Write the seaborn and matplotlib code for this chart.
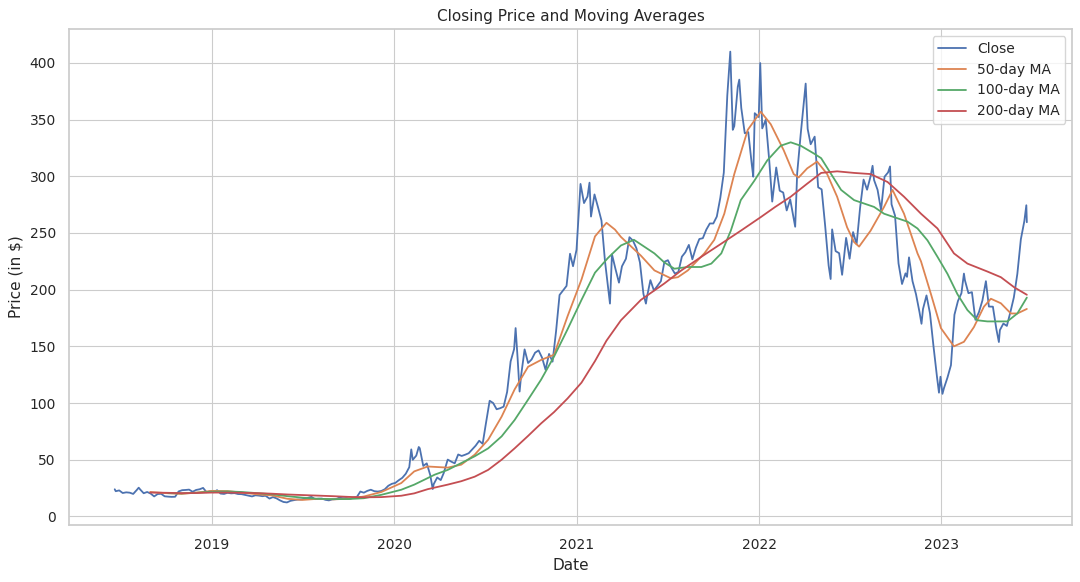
import seaborn as sns
import pandas as pd
import matplotlib.pyplot as plt
import matplotlib.dates as mdates

sns.set_theme(style="whitegrid")
plt.rcParams['font.family'] = ['DejaVu Sans']

# ============ closing price ============
close_dates = [
    "2018-06-20", "2018-06-22", "2018-06-29", "2018-07-06", "2018-07-13", "2018-07-20", "2018-07-27",
    "2018-08-03", "2018-08-07", "2018-08-10", "2018-08-17", "2018-08-24", "2018-08-31", "2018-09-07",
    "2018-09-14", "2018-09-21", "2018-09-28", "2018-10-05", "2018-10-12", "2018-10-19", "2018-10-26",
    "2018-11-02", "2018-11-09", "2018-11-16", "2018-11-23", "2018-11-30", "2018-12-07", "2018-12-14",
    "2018-12-21", "2018-12-28", "2019-01-04", "2019-01-11", "2019-01-18", "2019-01-25", "2019-02-01",
    "2019-02-08", "2019-02-15", "2019-02-22", "2019-03-01", "2019-03-08", "2019-03-15", "2019-03-22",
    "2019-03-29", "2019-04-05", "2019-04-12", "2019-04-18", "2019-04-26", "2019-05-03", "2019-05-10",
    "2019-05-17", "2019-05-24", "2019-05-31", "2019-06-07", "2019-06-14", "2019-06-21", "2019-06-28",
    "2019-07-05", "2019-07-12", "2019-07-19", "2019-07-26", "2019-08-02", "2019-08-09", "2019-08-16",
    "2019-08-23", "2019-08-30", "2019-09-06", "2019-09-13", "2019-09-20", "2019-09-27", "2019-10-04",
    "2019-10-11", "2019-10-18", "2019-10-25", "2019-11-01", "2019-11-08", "2019-11-15", "2019-11-22",
    "2019-11-29", "2019-12-06", "2019-12-13", "2019-12-20", "2019-12-27", "2020-01-03", "2020-01-10",
    "2020-01-17", "2020-01-24", "2020-01-31", "2020-02-04", "2020-02-07", "2020-02-14", "2020-02-19",
    "2020-02-21", "2020-02-28", "2020-03-06", "2020-03-13", "2020-03-18", "2020-03-20", "2020-03-27",
    "2020-04-03", "2020-04-09", "2020-04-17", "2020-04-24", "2020-05-01", "2020-05-08", "2020-05-15",
    "2020-05-22", "2020-05-29", "2020-06-05", "2020-06-12", "2020-06-19", "2020-06-26", "2020-07-02",
    "2020-07-10", "2020-07-17", "2020-07-24", "2020-07-31", "2020-08-07", "2020-08-14", "2020-08-21",
    "2020-08-28", "2020-08-31", "2020-09-04", "2020-09-08", "2020-09-11", "2020-09-18", "2020-09-25",
    "2020-10-02", "2020-10-09", "2020-10-16", "2020-10-23", "2020-10-30", "2020-11-06", "2020-11-13",
    "2020-11-20", "2020-11-27", "2020-12-04", "2020-12-11", "2020-12-18", "2020-12-24", "2020-12-31",
    "2021-01-08", "2021-01-15", "2021-01-22", "2021-01-26", "2021-01-29", "2021-02-05", "2021-02-12",
    "2021-02-19", "2021-02-26", "2021-03-05", "2021-03-08", "2021-03-12", "2021-03-19", "2021-03-26",
    "2021-04-01", "2021-04-09", "2021-04-16", "2021-04-23", "2021-04-30", "2021-05-07", "2021-05-14",
    "2021-05-19", "2021-05-21", "2021-05-28", "2021-06-04", "2021-06-11", "2021-06-18", "2021-06-25",
    "2021-07-02", "2021-07-09", "2021-07-16", "2021-07-23", "2021-07-30", "2021-08-06", "2021-08-13",
    "2021-08-20", "2021-08-27", "2021-09-03", "2021-09-10", "2021-09-17", "2021-09-24", "2021-10-01",
    "2021-10-08", "2021-10-15", "2021-10-22", "2021-10-29", "2021-11-04", "2021-11-09", "2021-11-12",
    "2021-11-19", "2021-11-22", "2021-11-26", "2021-12-03", "2021-12-10", "2021-12-17", "2021-12-20",
    "2021-12-23", "2021-12-31", "2022-01-03", "2022-01-07", "2022-01-14", "2022-01-21", "2022-01-27",
    "2022-02-04", "2022-02-11", "2022-02-18", "2022-02-25", "2022-03-04", "2022-03-14", "2022-03-18",
    "2022-03-25", "2022-04-04", "2022-04-08", "2022-04-14", "2022-04-22", "2022-04-29", "2022-05-06",
    "2022-05-13", "2022-05-20", "2022-05-24", "2022-05-27", "2022-06-03", "2022-06-10", "2022-06-16",
    "2022-06-24", "2022-07-01", "2022-07-08", "2022-07-15", "2022-07-22", "2022-07-29", "2022-08-05",
    "2022-08-12", "2022-08-16", "2022-08-19", "2022-08-26", "2022-09-02", "2022-09-09", "2022-09-16",
    "2022-09-20", "2022-09-23", "2022-09-30", "2022-10-07", "2022-10-14", "2022-10-21", "2022-10-24",
    "2022-10-28", "2022-11-04", "2022-11-11", "2022-11-18", "2022-11-22", "2022-11-25", "2022-12-02",
    "2022-12-09", "2022-12-16", "2022-12-23", "2022-12-27", "2022-12-30", "2023-01-03", "2023-01-06",
    "2023-01-13", "2023-01-20", "2023-01-27", "2023-02-03", "2023-02-10", "2023-02-15", "2023-02-17",
    "2023-02-24", "2023-03-03", "2023-03-10", "2023-03-17", "2023-03-24", "2023-03-31", "2023-04-06",
    "2023-04-14", "2023-04-21", "2023-04-26", "2023-04-28", "2023-05-05", "2023-05-12", "2023-05-19",
    "2023-05-26", "2023-06-02", "2023-06-09", "2023-06-16", "2023-06-20", "2023-06-21",
]
close_values = [
    23.9, 22.2, 22.9, 20.6, 21.2, 20.9, 19.8,
    23.2, 25.3, 23.7, 20.4, 21.5, 20.1, 17.6,
    19.7, 19.9, 17.7, 17.4, 17.2, 17.3, 22.0,
    23.1, 23.3, 23.6, 21.7, 23.3, 23.9, 25.1,
    21.3, 22.2, 21.2, 23.1, 20.1, 19.8, 20.8,
    20.3, 20.5, 19.7, 19.6, 18.9, 18.3, 17.6,
    18.6, 18.3, 17.8, 18.2, 15.7, 17.0, 15.9,
    14.1, 12.7, 12.3, 13.7, 14.3, 14.8, 14.9,
    15.5, 16.4, 17.2, 15.2, 15.6, 15.7, 14.6,
    14.1, 15.0, 15.2, 16.5, 16.0, 16.1, 15.5,
    16.5, 17.1, 21.9, 20.9, 22.5, 23.5, 22.2,
    21.9, 22.4, 23.9, 27.0, 28.7, 29.5, 31.9,
    34.0, 37.6, 43.4, 59.1, 49.9, 53.6, 61.2,
    60.1, 44.5, 46.8, 36.4, 24.1, 28.5, 34.3,
    32.0, 38.2, 50.1, 48.3, 46.8, 54.6, 53.3,
    54.4, 55.7, 59.0, 62.4, 66.7, 64.0, 80.6,
    102.0, 100.0, 94.5, 95.4, 96.8, 109.8, 136.7,
    147.6, 166.1, 139.4, 110.1, 124.2, 147.3, 135.3,
    138.4, 144.4, 146.4, 140.0, 129.3, 143.3, 136.5,
    163.2, 195.3, 199.3, 203.3, 231.7, 220.7, 235.2,
    293.3, 276.4, 282.2, 294.4, 264.5, 284.0, 272.8,
    260.9, 225.2, 199.3, 187.7, 231.2, 218.3, 206.2,
    220.6, 227.3, 246.3, 243.3, 236.5, 224.0, 196.3,
    187.7, 193.3, 208.4, 199.3, 203.3, 207.5, 224.6,
    226.0, 219.4, 214.2, 215.6, 229.1, 233.0, 239.5,
    226.8, 237.0, 244.7, 245.4, 253.0, 258.4, 258.4,
    264.5, 281.0, 303.2, 371.3, 410.0, 341.0, 344.3,
    379.0, 385.3, 360.3, 338.0, 339.0, 310.7, 299.7,
    355.7, 352.3, 399.9, 342.3, 349.9, 314.0, 277.7,
    307.8, 287.3, 285.7, 269.9, 279.7, 255.5, 302.8,
    336.9, 381.8, 341.8, 328.3, 335.0, 290.3, 288.5,
    256.5, 221.3, 209.4, 253.2, 234.0, 232.2, 213.1,
    245.7, 227.3, 250.8, 240.1, 272.2, 297.1, 288.2,
    300.0, 309.3, 296.7, 288.1, 270.2, 299.7, 303.4,
    308.7, 275.3, 265.3, 223.1, 205.0, 214.4, 211.3,
    228.5, 207.5, 196.0, 180.2, 169.9, 182.9, 194.9,
    179.1, 150.2, 123.2, 109.1, 123.2, 108.1, 113.1,
    122.4, 133.4, 177.9, 190.0, 196.9, 214.2, 208.3,
    196.9, 197.8, 173.4, 180.1, 190.4, 207.5, 185.1,
    185.0, 165.1, 153.8, 164.3, 170.1, 168.0, 180.1,
    193.2, 214.0, 244.4, 260.5, 274.5, 259.5,
]

# ============ 50-day moving average ============
ma50_dates = [
    "2018-08-30", "2018-10-01", "2018-11-01", "2018-12-01", "2019-01-01", "2019-02-01", "2019-03-01",
    "2019-04-01", "2019-05-01", "2019-06-01", "2019-07-01", "2019-08-01", "2019-09-01", "2019-10-01",
    "2019-11-01", "2019-12-06", "2020-01-15", "2020-02-10", "2020-03-08", "2020-04-17", "2020-05-14",
    "2020-06-10", "2020-07-07", "2020-08-03", "2020-08-29", "2020-09-25", "2020-10-21", "2020-11-16",
    "2020-12-13", "2021-01-10", "2021-02-06", "2021-03-01", "2021-03-18", "2021-03-30", "2021-05-09",
    "2021-06-05", "2021-07-08", "2021-07-22", "2021-08-11", "2021-09-13", "2021-10-03", "2021-10-23",
    "2021-11-12", "2021-12-09", "2022-01-04", "2022-01-24", "2022-02-19", "2022-03-11", "2022-03-21",
    "2022-04-07", "2022-04-27", "2022-05-17", "2022-06-06", "2022-06-26", "2022-07-10", "2022-07-20",
    "2022-08-12", "2022-09-08", "2022-09-25", "2022-10-18", "2022-11-14", "2022-11-21", "2022-12-11",
    "2022-12-31", "2023-01-26", "2023-02-15", "2023-03-07", "2023-03-27", "2023-04-10", "2023-04-30",
    "2023-05-20", "2023-06-02", "2023-06-21",
]
ma50_values = [
    21.5, 20.5, 19.8, 21.0, 22.5, 22.3, 21.0,
    19.5, 18.5, 15.5, 14.5, 15.5, 15.0, 15.6,
    17.5, 21.5, 29.4, 39.7, 44.0, 43.0, 45.6,
    54.4, 67.6, 88.0, 112.0, 132.0, 138.0, 142.6,
    176.5, 209.0, 247.0, 259.0, 253.0, 246.5, 230.0,
    217.0, 210.0, 211.0, 217.0, 232.0, 244.0, 267.0,
    302.0, 341.0, 357.0, 346.0, 323.0, 302.0, 299.0,
    307.0, 313.0, 302.0, 282.0, 255.0, 242.0, 238.0,
    252.0, 273.0, 288.0, 267.0, 232.0, 225.0, 196.0,
    166.0, 150.0, 154.0, 167.0, 185.0, 192.0, 188.0,
    179.0, 179.0, 183.0,
]

# ============ 100-day moving average ============
ma100_dates = [
    "2018-10-05", "2018-11-01", "2018-12-01", "2019-01-01", "2019-02-01", "2019-03-01", "2019-04-01",
    "2019-05-01", "2019-06-01", "2019-07-01", "2019-08-01", "2019-09-01", "2019-10-01", "2019-11-01",
    "2019-12-06", "2020-01-15", "2020-02-10", "2020-03-22", "2020-04-17", "2020-05-14", "2020-06-10",
    "2020-07-07", "2020-08-03", "2020-08-29", "2020-09-25", "2020-10-21", "2020-11-16", "2020-12-13",
    "2021-01-10", "2021-02-06", "2021-03-04", "2021-03-30", "2021-04-25", "2021-06-05", "2021-06-25",
    "2021-07-15", "2021-08-11", "2021-09-07", "2021-09-27", "2021-10-17", "2021-11-05", "2021-11-25",
    "2021-12-22", "2022-01-17", "2022-02-13", "2022-03-05", "2022-03-25", "2022-04-21", "2022-05-05",
    "2022-05-25", "2022-06-14", "2022-07-10", "2022-07-30", "2022-08-19", "2022-09-08", "2022-09-28",
    "2022-10-25", "2022-11-14", "2022-12-04", "2022-12-24", "2023-01-13", "2023-02-02", "2023-02-22",
    "2023-03-14", "2023-04-03", "2023-04-23", "2023-05-13", "2023-06-02", "2023-06-21",
]
ma100_values = [
    20.5, 20.3, 20.8, 21.8, 22.0, 21.5, 20.5,
    19.5, 17.8, 16.5, 15.5, 15.2, 15.3, 16.0,
    19.0, 23.5, 28.0, 36.8, 41.0, 47.0, 53.0,
    60.0, 70.6, 85.0, 103.0, 120.6, 141.0, 165.0,
    191.0, 215.0, 228.0, 239.0, 244.0, 232.0, 224.0,
    218.5, 220.0, 220.0, 223.0, 232.0, 252.0, 279.0,
    296.0, 314.0, 327.0, 330.0, 327.0, 320.0, 316.0,
    302.0, 288.0, 279.0, 276.0, 273.0, 267.0, 264.0,
    260.0, 254.0, 243.5, 229.0, 214.0, 196.0, 182.0,
    173.0, 172.0, 172.0, 172.0, 179.0, 193.0,
]

# ============ 200-day moving average ============
ma200_dates = [
    "2018-08-30", "2018-10-01", "2018-11-01", "2018-12-01", "2019-01-01", "2019-02-01", "2019-03-01",
    "2019-04-01", "2019-05-01", "2019-06-01", "2019-07-01", "2019-08-01", "2019-09-01", "2019-10-01",
    "2019-11-01", "2019-12-06", "2020-01-15", "2020-02-10", "2020-03-08", "2020-04-17", "2020-05-14",
    "2020-06-10", "2020-07-07", "2020-08-03", "2020-08-29", "2020-09-25", "2020-10-21", "2020-11-16",
    "2020-12-13", "2021-01-10", "2021-02-06", "2021-03-01", "2021-03-30", "2021-05-09", "2021-06-25",
    "2021-07-29", "2021-09-07", "2021-10-17", "2021-11-25", "2022-01-04", "2022-02-02", "2022-03-05",
    "2022-04-07", "2022-05-05", "2022-06-06", "2022-07-10", "2022-08-12", "2022-09-15", "2022-10-18",
    "2022-11-21", "2022-12-24", "2023-01-26", "2023-02-22", "2023-04-03", "2023-04-30", "2023-05-27",
    "2023-06-21",
]
ma200_values = [
    21.0, 20.8, 20.5, 20.6, 21.0, 21.0, 20.8,
    20.5, 20.0, 19.3, 18.8, 18.3, 17.8, 17.2,
    16.8, 17.0, 18.2, 20.3, 24.0, 28.0, 31.0,
    35.0, 41.0, 50.0, 60.0, 71.0, 82.0, 92.0,
    104.0, 118.0, 137.0, 155.0, 173.0, 191.0, 205.5,
    217.0, 229.0, 240.6, 252.0, 264.0, 273.0, 282.0,
    293.5, 303.0, 304.4, 303.0, 302.0, 295.0, 282.0,
    267.0, 254.0, 232.0, 223.0, 216.0, 211.0, 202.0,
    195.5,
]

close_df = pd.DataFrame({"Date": pd.to_datetime(close_dates), "Close": close_values})
ma50_df = pd.DataFrame({"Date": pd.to_datetime(ma50_dates), "MA": ma50_values})
ma100_df = pd.DataFrame({"Date": pd.to_datetime(ma100_dates), "MA": ma100_values})
ma200_df = pd.DataFrame({"Date": pd.to_datetime(ma200_dates), "MA": ma200_values})

colors = sns.color_palette("deep")

fig, ax = plt.subplots(figsize=(10.8, 5.82), dpi=100)
sns.lineplot(data=close_df, x="Date", y="Close", color=colors[0], linewidth=1.3, label="Close", ax=ax)
sns.lineplot(data=ma50_df, x="Date", y="MA", color=colors[1], linewidth=1.3, label="50-day MA", ax=ax)
sns.lineplot(data=ma100_df, x="Date", y="MA", color=colors[2], linewidth=1.3, label="100-day MA", ax=ax)
sns.lineplot(data=ma200_df, x="Date", y="MA", color=colors[3], linewidth=1.3, label="200-day MA", ax=ax)

ax.xaxis.set_major_locator(mdates.YearLocator())
ax.xaxis.set_major_formatter(mdates.DateFormatter("%Y"))
ax.tick_params(labelsize=10)
ax.grid(linewidth=0.8)
ax.set_title("Closing Price and Moving Averages", fontsize=11)
ax.set_xlabel("Date", fontsize=11)
ax.set_ylabel("Price (in $)", fontsize=11)
ax.legend(loc="upper right", fontsize=10)

plt.subplots_adjust(left=0.064, right=0.993, top=0.950, bottom=0.098)
plt.savefig("out.png", dpi=100)
